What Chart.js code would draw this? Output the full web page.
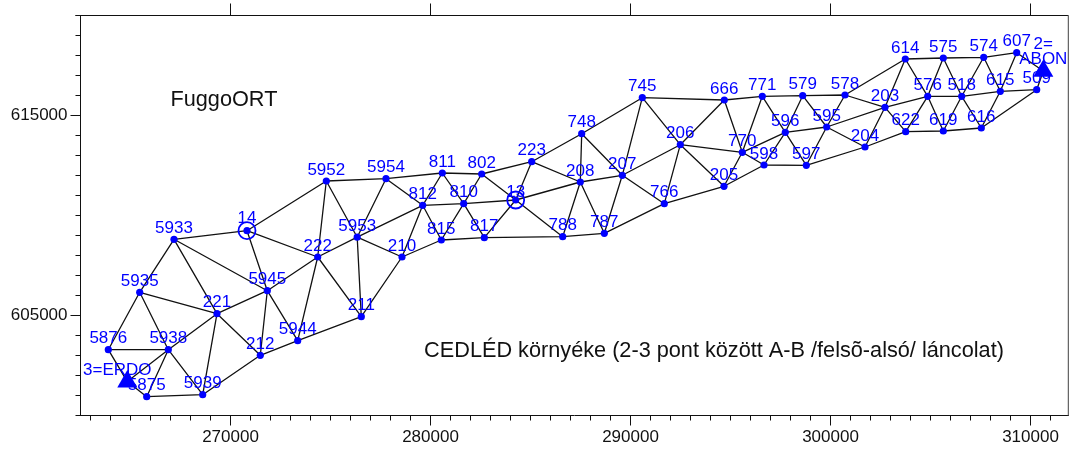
<!DOCTYPE html>
<html>
<head>
<meta charset="utf-8">
<title>CEDLÉD környéke</title>
<script src="https://cdn.jsdelivr.net/npm/chart.js@4/dist/chart.umd.min.js"></script>
<style>
  html, body { margin: 0; padding: 0; background: #fff; }
  canvas { display: block; }
</style>
</head>
<body>
<canvas id="net" width="1069" height="451"></canvas>
<script>
// survey points
const pointIds = ['5933', '14', '222', '5953', '5935', '5945', '221', '211', '5876', '5938',
  '5944', '212', '5875', '5939', '5952', '5954', '811', '802', '223', '748',
  '208', '812', '810', '13', '815', '817', '788', '787', '210', '745',
  '666', '771', '579', '578', '206', '596', '595', '770', '598', '597',
  '207', '205', '766', '614', '575', '574', '607', '203', '576', '518',
  '615', '509', '622', '619', '616', '204', '3=ERDO', '2=\nABON'];
const pointX = [267175, 270825, 274360, 276335, 265460, 271840, 269325, 276540, 263890, 266890,
  273360, 271490, 265810, 268610, 274790, 277775, 280590, 282560, 285060, 287560,
  287490, 279610, 281660, 284260, 280540, 282690, 286610, 288690, 278575, 290590,
  294690, 296590, 298610, 300725, 292490, 297740, 299810, 295590, 296675, 298790,
  289590, 294675, 291690, 303740, 305640, 307660, 309310, 302725, 304860, 306560,
  308490, 310310, 303760, 305640, 307540, 301725, 264840, 310640];
const pointY = [608810, 609240, 607925, 608915, 606160, 606240, 605090, 604940, 603290, 603290,
  603740, 603010, 600940, 601040, 611725, 611840, 612125, 612075, 612690, 614090,
  611675, 610510, 610590, 610775, 608775, 608890, 608940, 609110, 607925, 615890,
  615775, 615960, 615990, 616025, 613540, 614160, 614425, 613160, 612525, 612510,
  612010, 611460, 610590, 617825, 617875, 617910, 618140, 615410, 615960, 615960,
  616210, 616290, 614190, 614225, 614375, 613425, 601695, 617225];

const ringIds = ['14', '13'];
const triangleIds = ['3=ERDO', '2=\nABON'];

const ERDO = '3=ERDO', ABON = '2=\nABON';
const edges = [
  ['5933', '14'], ['5933', '5935'], ['5933', '221'], ['5933', '5945'],
  ['14', '5945'], ['14', '222'], ['14', '5952'],
  ['5935', '5876'], ['5935', '5938'], ['5935', '221'],
  ['5876', '5938'], ['5876', ERDO], [ERDO, '5875'], [ERDO, '5938'],
  ['5938', '221'], ['5938', '5875'], ['5938', '5939'],
  ['5875', '5939'], ['5939', '221'], ['5939', '212'],
  ['221', '5945'], ['221', '212'],
  ['5945', '222'], ['5945', '212'], ['5945', '5944'],
  ['222', '5944'], ['222', '211'], ['222', '5953'], ['222', '5952'],
  ['212', '5944'], ['5944', '211'],
  ['211', '5953'], ['211', '210'],
  ['5953', '5952'], ['5953', '5954'], ['5953', '812'], ['5953', '210'],
  ['210', '812'], ['210', '815'],
  ['5952', '5954'], ['5954', '811'], ['5954', '812'],
  ['812', '811'], ['812', '810'], ['812', '815'],
  ['811', '802'], ['811', '810'],
  ['810', '802'], ['810', '13'], ['810', '815'], ['810', '817'],
  ['815', '817'], ['802', '223'], ['802', '13'],
  ['223', '13'], ['223', '748'], ['223', '208'],
  ['817', '13'], ['817', '788'],
  ['13', '208'], ['13', '788'],
  ['788', '208'], ['788', '787'],
  ['787', '208'], ['787', '207'], ['787', '766'],
  ['208', '748'], ['208', '207'],
  ['748', '745'], ['748', '207'],
  ['745', '207'], ['745', '206'], ['745', '666'],
  ['207', '206'], ['207', '766'],
  ['206', '666'], ['206', '766'], ['206', '205'], ['206', '770'],
  ['766', '205'],
  ['666', '771'], ['666', '770'],
  ['771', '770'], ['771', '579'], ['771', '596'],
  ['770', '205'], ['770', '598'], ['770', '596'],
  ['205', '598'], ['598', '596'], ['598', '597'],
  ['596', '579'], ['596', '597'], ['596', '595'],
  ['579', '578'], ['579', '595'],
  ['595', '578'], ['595', '597'], ['595', '203'], ['595', '204'],
  ['597', '204'],
  ['578', '203'], ['578', '614'],
  ['204', '203'], ['204', '622'],
  ['203', '614'], ['203', '576'], ['203', '622'],
  ['614', '575'], ['614', '576'],
  ['575', '574'], ['575', '576'], ['575', '518'],
  ['574', '607'], ['574', '518'], ['574', '615'],
  ['607', ABON], ['607', '615'],
  [ABON, '509'], ['615', '509'],
  ['576', '518'], ['576', '622'], ['576', '619'],
  ['518', '615'], ['518', '619'], ['518', '616'],
  ['615', '616'],
  ['622', '619'], ['619', '616'], ['616', '509']
];

// axis ticks
const xMajor = [270000, 280000, 290000, 300000, 310000];
const yMajor = [605000, 615000];
const xRange = [262500, 311900];
const yRange = [600000, 620000];

// free text on the map
const noteTexts = ['FuggoORT', 'CEDLÉD környéke (2-3 pont között A-B /felsõ-alsó/ láncolat)'];
const noteX = [267000, 279680];
const noteY = [615500, 602930];

const BLUE = '#0000ff';
const INK = '#111';
const FONT = '"Liberation Sans", Arial, sans-serif';

// label tweaks, everything else sits centred just above its point
const labelNudge = {
  '14': [0, -1.5],
  '13': [0, 3],
  '3=ERDO': [-10, -0.5],
  '2=\nABON': [0, -0.5]
};

const xyOf = id => {
  const i = pointIds.indexOf(id);
  return { x: pointX[i], y: pointY[i] };
};

const edgeData = [];
edges.forEach(([a, b]) => {
  edgeData.push(xyOf(a), xyOf(b), { x: null, y: null });
});

const labelPlugin = {
  id: 'pointLabels',
  afterDatasetsDraw(chart) {
    const { ctx, scales: { x, y } } = chart;
    ctx.save();
    ctx.fillStyle = BLUE;
    ctx.font = '17px ' + FONT;
    ctx.textAlign = 'center';
    ctx.textBaseline = 'alphabetic';
    pointIds.forEach((id, i) => {
      const [dx, dy] = labelNudge[id] || [0, 0];
      const lines = id.split('\n').reverse();
      lines.forEach((line, n) => {
        ctx.fillText(line, x.getPixelForValue(pointX[i]) + dx, y.getPixelForValue(pointY[i]) - 6.5 + dy - n * 15);
      });
    });
    ctx.fillStyle = INK;
    ctx.textAlign = 'left';
    ctx.font = '21.7px ' + FONT;
    noteTexts.forEach((t, i) => {
      ctx.fillText(t, x.getPixelForValue(noteX[i]), y.getPixelForValue(noteY[i]));
    });
    ctx.restore();
  }
};

const framePlugin = {
  id: 'frameTicks',
  beforeDatasetsDraw(chart) {
    const { ctx, chartArea: a, scales: { x, y } } = chart;
    const seg = (x0, y0, x1, y1) => {
      ctx.beginPath();
      ctx.moveTo(x0, y0);
      ctx.lineTo(x1, y1);
      ctx.stroke();
    };
    ctx.save();
    ctx.strokeStyle = INK;
    ctx.lineWidth = 1;
    seg(a.left - 5, a.top, a.right, a.top);
    // minor ticks every 1000, major ones come from the library on left and bottom
    for (let v = 263000; v <= xRange[1]; v += 1000) {
      if (v % 10000 !== 0) seg(x.getPixelForValue(v), a.bottom, x.getPixelForValue(v), a.bottom + 5);
    }
    for (let v = yRange[0]; v <= yRange[1]; v += 1000) {
      if (!yMajor.includes(v)) seg(a.left - 5, y.getPixelForValue(v), a.left, y.getPixelForValue(v));
    }
    xMajor.forEach(v => seg(x.getPixelForValue(v), a.top - 12, x.getPixelForValue(v), a.top));
    yMajor.forEach(v => seg(a.right, y.getPixelForValue(v), a.right + 10, y.getPixelForValue(v)));
    // right edge is softer in the original
    ctx.strokeStyle = '#666';
    ctx.lineWidth = 1.5;
    seg(a.right, a.top, a.right, a.bottom);
    ctx.restore();
  }
};

new Chart(document.getElementById('net').getContext('2d'), {
  type: 'scatter',
  data: {
    // first dataset ends up on top
    datasets: [
      {
        data: triangleIds.map(xyOf),
        pointStyle: 'triangle',
        pointRadius: 11.6,
        pointBorderWidth: 0,
        pointBackgroundColor: BLUE
      },
      {
        data: ringIds.map(xyOf),
        pointRadius: 8.5,
        pointBorderWidth: 1.8,
        pointBorderColor: BLUE,
        pointBackgroundColor: 'transparent'
      },
      {
        data: pointIds.filter(id => !triangleIds.includes(id)).map(xyOf),
        pointRadius: 3.6,
        pointBorderWidth: 0,
        pointBackgroundColor: BLUE
      },
      {
        data: edgeData,
        showLine: true,
        spanGaps: false,
        borderColor: INK,
        borderWidth: 1.3,
        pointRadius: 0
      }
    ]
  },
  options: {
    responsive: false,
    animation: false,
    layout: { autoPadding: false, padding: { top: 15.5, right: 0.5, left: 0, bottom: 0 } },
    plugins: { legend: { display: false }, tooltip: { enabled: false } },
    scales: {
      x: {
        type: 'linear',
        min: xRange[0],
        max: xRange[1],
        afterBuildTicks: s => { s.ticks = xMajor.map(value => ({ value })); },
        afterFit: s => { s.height = 35.5; s.paddingLeft = 0; s.paddingRight = 0; },
        border: { color: INK },
        grid: { drawOnChartArea: false, tickLength: 10, color: INK },
        ticks: {
          autoSkip: false, maxRotation: 0, padding: 2, color: INK,
          font: { family: FONT, size: 17 },
          callback: v => String(v)
        }
      },
      y: {
        type: 'linear',
        min: yRange[0],
        max: yRange[1],
        afterBuildTicks: s => { s.ticks = yMajor.map(value => ({ value })); },
        afterFit: s => { s.width = 80.5; s.paddingTop = 0; s.paddingBottom = 0; },
        border: { color: INK },
        grid: { drawOnChartArea: false, tickLength: 10, color: INK },
        ticks: {
          autoSkip: false, padding: 3, color: INK,
          font: { family: FONT, size: 17 },
          callback: v => String(v)
        }
      }
    }
  },
  plugins: [framePlugin, labelPlugin]
});
</script>
</body>
</html>
